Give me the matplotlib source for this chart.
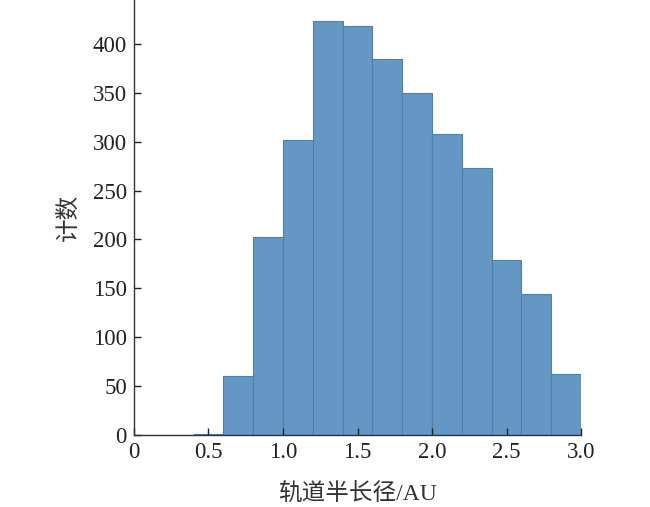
import matplotlib.pyplot as plt
import numpy as np

bin_edges = np.round(np.arange(0.0, 3.01, 0.2), 1)
counts = [0, 0, 1, 60, 203, 302, 424, 418, 385, 350, 308, 273, 179, 144, 62]
xticks = [0, 0.5, 1.0, 1.5, 2.0, 2.5, 3.0]
xtick_labels = ["0", "0.5", "1.0", "1.5", "2.0", "2.5", "3.0"]
yticks = [0, 50, 100, 150, 200, 250, 300, 350, 400]

plt.rcParams['font.family'] = ['Liberation Serif', 'Noto Sans CJK SC']

fig = plt.figure(figsize=(6.5, 5.07), dpi=100)
ax = fig.add_axes([0.206, 0.142, 0.688, 0.858])

ax.hist(bin_edges[:-1], bins=bin_edges, weights=counts,
        color="#6497c4", edgecolor="#4f80ad", linewidth=0.8)

ax.set_xlim(0, 3.0)
ax.set_ylim(0, 445)
ax.set_xticks(xticks)
ax.set_xticklabels(xtick_labels)
ax.set_yticks(yticks)

for s in ["top", "right"]:
    ax.spines[s].set_visible(False)
for s in ["left", "bottom"]:
    ax.spines[s].set_color("#333333")
    ax.spines[s].set_linewidth(1.0)

ax.tick_params(direction="in", length=5, width=1, labelsize=16.5, colors="#222222", pad=5)

ax.set_xlabel("轨道半长径/AU", fontsize=17, color="#333333", labelpad=15)
ax.set_ylabel("计数", fontsize=17, color="#333333", labelpad=9)

fig.savefig("out.png", dpi=100)
